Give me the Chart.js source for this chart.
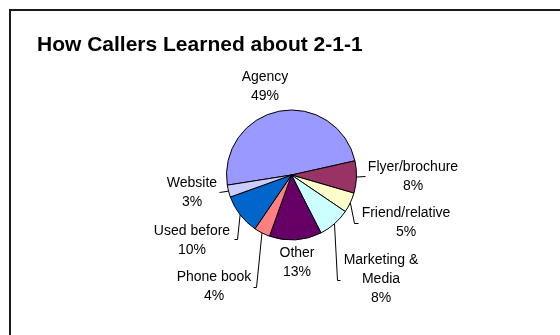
<!DOCTYPE html>
<html>
<head>
<meta charset="utf-8">
<script src="https://cdn.jsdelivr.net/npm/chart.js@4.4.1/dist/chart.umd.min.js"></script>
<style>
  html, body { margin: 0; padding: 0; background: #fff; }
  #wrap { width: 560px; height: 335px; position: relative; }
</style>
</head>
<body>
<div id="wrap"><canvas id="c" width="560" height="335"></canvas></div>
<script>
const titleText = 'How Callers Learned about 2-1-1';
const categories = ['Agency', 'Flyer/brochure', 'Friend/relative', 'Marketing & Media', 'Other', 'Phone book', 'Used before', 'Website'];
const shares = [49, 8, 5, 8, 13, 4, 10, 3];
const sliceColors = ['#9999FF', '#993366', '#FFFFCC', '#CCFFFF', '#660066', '#FF8080', '#0066CC', '#CCCCFF'];

// Where each slice label sits (centre of its first line) and the bends of its leader line.
const labelLayout = [
  { x: 265, y: 77,  leader: null },
  { x: 413, y: 167, leader: [[365, 176]] },
  { x: 406, y: 213, leader: [[354, 223], [358, 223]] },
  { x: 381, y: 260, leader: [[337, 280], [340, 280]], maxWidth: 80 },
  { x: 297, y: 253, leader: null },
  { x: 214, y: 277, leader: [[256, 287], [253, 287]] },
  { x: 192, y: 231, leader: [[237, 239], [234, 239]] },
  { x: 192, y: 183, leader: [[219, 192]] }
];

const FONT = '"Liberation Sans", Arial, Helvetica, sans-serif';
const LABEL_FONT = '14px ' + FONT;
const LINE_H = 19;

function wrapText(ctx, text, maxWidth) {
  if (!maxWidth) return [text];
  const words = text.split(' ');
  const lines = [];
  let cur = '';
  for (const w of words) {
    const test = cur ? cur + ' ' + w : w;
    if (cur && ctx.measureText(test).width > maxWidth) {
      lines.push(cur);
      cur = w;
    } else {
      cur = test;
    }
  }
  if (cur) lines.push(cur);
  return lines;
}

const framePlugin = {
  id: 'frameAndTitle',
  beforeDraw(chart) {
    const ctx = chart.ctx;
    ctx.save();
    ctx.fillStyle = '#fff';
    ctx.fillRect(0, 0, chart.width, chart.height);
    ctx.strokeStyle = '#1a1a1a';
    ctx.lineWidth = 2;
    ctx.strokeRect(10, 10, 700, 500);
    ctx.fillStyle = '#000';
    ctx.font = 'bold 21px ' + FONT;
    ctx.textAlign = 'left';
    ctx.textBaseline = 'alphabetic';
    ctx.fillText(titleText, 37, 51);
    ctx.restore();
  }
};

const sliceLabelPlugin = {
  id: 'sliceLabels',
  afterDatasetsDraw(chart) {
    const ctx = chart.ctx;
    const arcs = chart.getDatasetMeta(0).data;
    ctx.save();
    ctx.font = LABEL_FONT;
    ctx.fillStyle = '#000';
    ctx.strokeStyle = '#000';
    ctx.lineWidth = 1;
    ctx.textAlign = 'center';
    ctx.textBaseline = 'middle';
    arcs.forEach((arc, i) => {
      const lay = labelLayout[i];
      const p = arc.getProps(['x', 'y', 'startAngle', 'endAngle', 'outerRadius'], true);
      const mid = (p.startAngle + p.endAngle) / 2;
      if (lay.leader) {
        ctx.beginPath();
        ctx.moveTo(p.x + Math.cos(mid) * p.outerRadius, p.y + Math.sin(mid) * p.outerRadius);
        lay.leader.forEach(([lx, ly]) => ctx.lineTo(lx + 0.5, ly + 0.5));
        ctx.stroke();
      }
      const lines = wrapText(ctx, categories[i], lay.maxWidth);
      lines.push(shares[i] + '%');
      lines.forEach((ln, k) => ctx.fillText(ln, lay.x, lay.y + k * LINE_H));
    });
    ctx.restore();
  }
};

new Chart(document.getElementById('c'), {
  type: 'pie',
  data: {
    labels: categories,
    datasets: [{
      data: shares,
      backgroundColor: sliceColors,
      borderColor: '#000',
      borderWidth: 1
    }]
  },
  options: {
    responsive: false,
    animation: false,
    rotation: 261,
    radius: 65,
    layout: { padding: { left: 221, right: 198, top: 105, bottom: 90 } },
    plugins: {
      legend: { display: false },
      title: { display: false },
      tooltip: { enabled: false }
    }
  },
  plugins: [framePlugin, sliceLabelPlugin]
});
</script>
</body>
</html>
